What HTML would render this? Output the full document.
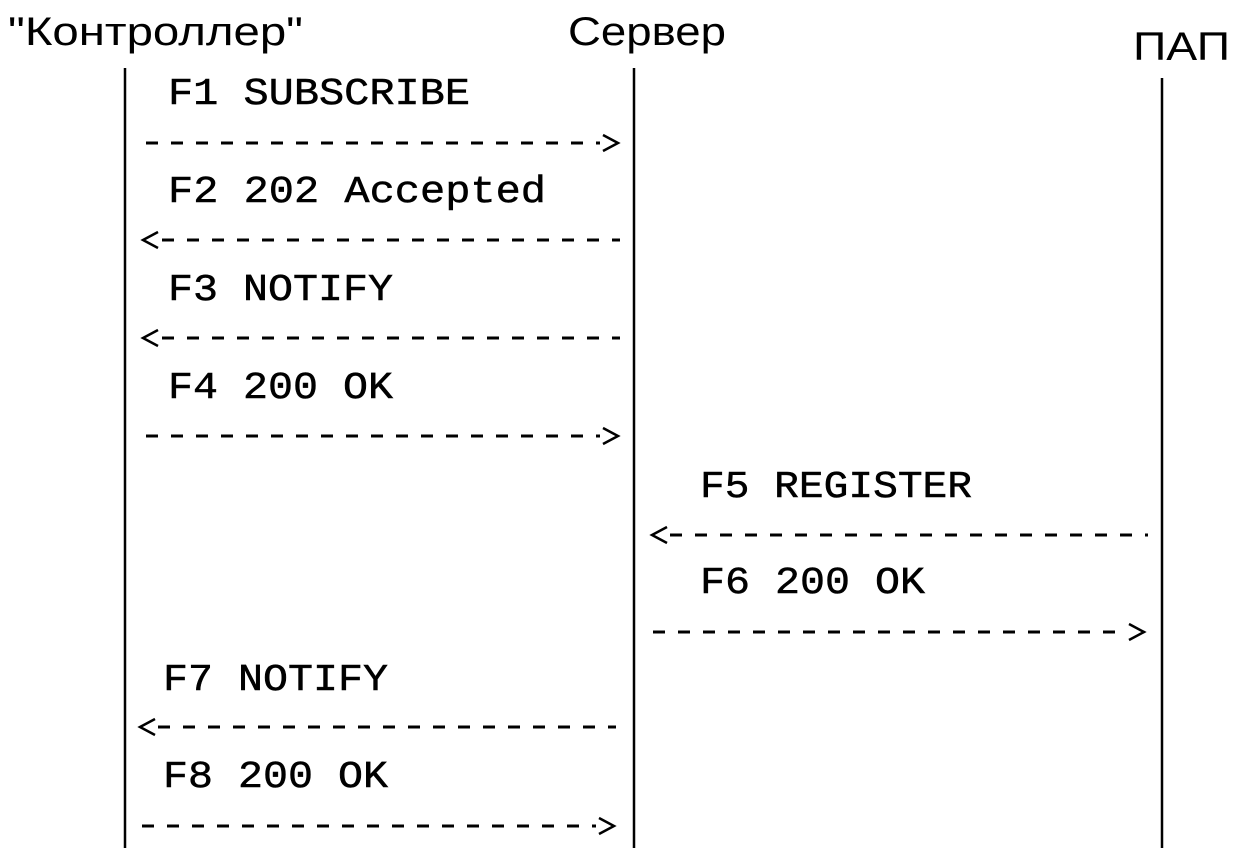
<!DOCTYPE html>
<html><head><meta charset="utf-8"><style>
html,body{margin:0;padding:0;background:#fff;}
svg{display:block;}
.h{font-family:"Liberation Sans","Noto Sans CJK SC",sans-serif;font-size:40px;fill:#000;}
.m{font-family:"Liberation Mono",monospace;font-size:38px;fill:#000;stroke:#000;stroke-width:0.5px;}
.d{stroke:#000;stroke-width:3;stroke-dasharray:12 13;fill:none;}
.l{stroke:#000;stroke-width:2.5;fill:none;}
.a{stroke:#000;stroke-width:2.5;fill:none;}
</style></head><body>
<svg width="1235" height="855" viewBox="0 0 1235 855" xmlns="http://www.w3.org/2000/svg">
<text class="h" x="8" y="45" textLength="295" lengthAdjust="spacingAndGlyphs">"Контроллер"</text>
<text class="h" x="568" y="45" textLength="158" lengthAdjust="spacingAndGlyphs">Сервер</text>
<text class="h" x="1133" y="60" textLength="97" lengthAdjust="spacingAndGlyphs">ПАП</text>

<line class="l" x1="125" y1="68" x2="125" y2="848"/>
<line class="l" x1="634" y1="68" x2="634" y2="848"/>
<line class="l" x1="1162" y1="78" x2="1162" y2="848"/>

<text class="m" x="168" y="104" textLength="302" lengthAdjust="spacingAndGlyphs">F1 SUBSCRIBE</text>
<line class="d" x1="146" y1="143" x2="600" y2="143"/>
<polyline class="a" points="603,135 618,143 603,151"/>

<text class="m" x="168" y="202" textLength="378" lengthAdjust="spacingAndGlyphs">F2 202 Accepted</text>
<line class="d" x1="162" y1="240" x2="620" y2="240"/>
<polyline class="a" points="158,232 143,240 158,248"/>

<text class="m" x="168" y="300" textLength="225" lengthAdjust="spacingAndGlyphs">F3 NOTIFY</text>
<line class="d" x1="162" y1="338" x2="620" y2="338"/>
<polyline class="a" points="158,330 143,338 158,346"/>

<text class="m" x="168" y="398" textLength="225" lengthAdjust="spacingAndGlyphs">F4 200 OK</text>
<line class="d" x1="146" y1="436" x2="600" y2="436"/>
<polyline class="a" points="603,428 618,436 603,444"/>

<text class="m" x="700" y="497" textLength="272" lengthAdjust="spacingAndGlyphs">F5 REGISTER</text>
<line class="d" x1="670" y1="535" x2="1148" y2="535"/>
<polyline class="a" points="667,527 652,535 667,543"/>

<text class="m" x="700" y="593" textLength="225" lengthAdjust="spacingAndGlyphs">F6 200 OK</text>
<line class="d" x1="653" y1="632" x2="1126" y2="632"/>
<polyline class="a" points="1129,624 1144,632 1129,640"/>

<text class="m" x="163" y="690" textLength="225" lengthAdjust="spacingAndGlyphs">F7 NOTIFY</text>
<line class="d" x1="158" y1="727" x2="616" y2="727"/>
<polyline class="a" points="155,719 140,727 155,735"/>

<text class="m" x="163" y="787" textLength="225" lengthAdjust="spacingAndGlyphs">F8 200 OK</text>
<line class="d" x1="142" y1="826" x2="596" y2="826"/>
<polyline class="a" points="599,818 614,826 599,834"/>
</svg>
</body></html>
